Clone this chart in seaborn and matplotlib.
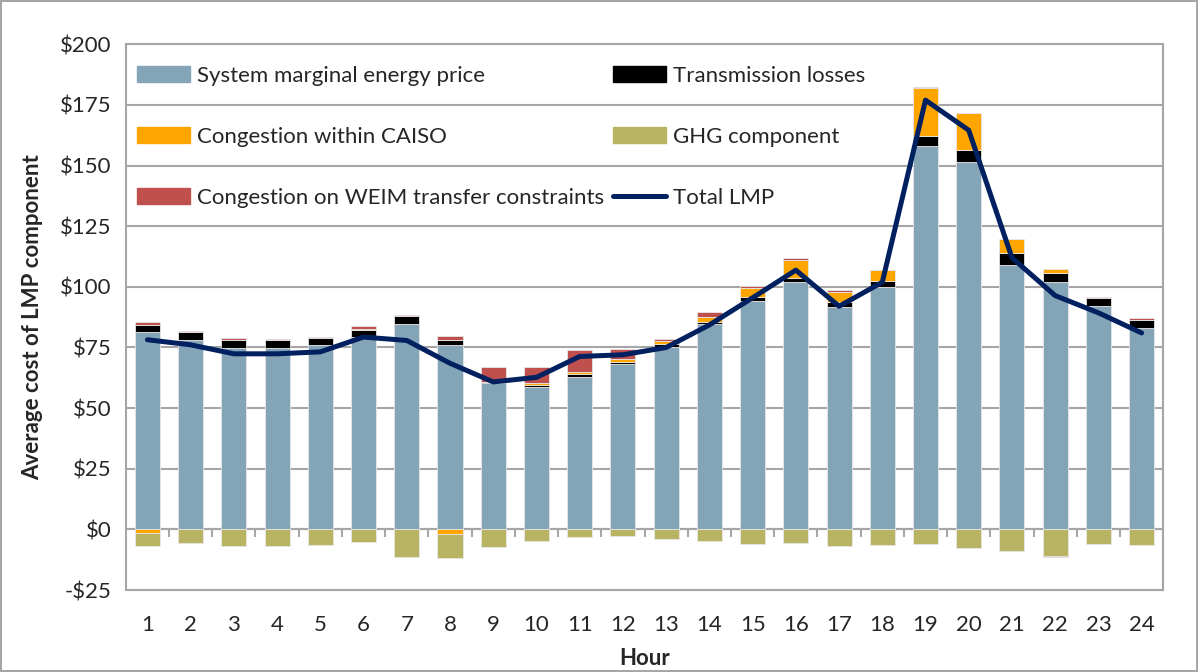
import numpy as np
import matplotlib
matplotlib.use("Agg")
import matplotlib.pyplot as plt
import seaborn as sns
from matplotlib.patches import Patch
from matplotlib.lines import Line2D

# hourly average LMP components ($/MWh)
hours = list(range(1, 25))
system_energy = [81.2, 77.9, 74.8, 74.8, 76.0, 79.3, 84.8, 76.1, 60.5, 58.9, 62.7, 68.1,
                 75.4, 84.5, 94.1, 101.9, 91.7, 100.0, 158.2, 151.5, 109.2, 101.9, 92.0, 83.0]
trans_losses = [3.2, 3.3, 3.1, 3.1, 3.0, 2.8, 3.1, 1.8, 0.3, 0.8, 1.3, 1.1,
                1.0, 1.2, 1.6, 1.9, 2.0, 2.4, 4.0, 4.9, 4.9, 3.8, 3.3, 3.5]
cong_caiso = [-1.5, 0.0, 0.0, 0.0, 0.0, 0.5, 0.0, -2.0, 0.0, 0.8, 1.1, 1.0,
              1.3, 1.9, 3.9, 7.1, 4.1, 4.4, 19.8, 15.3, 5.6, 1.8, 0.0, 0.0]
ghg = [-5.3, -5.8, -7.0, -6.8, -6.5, -5.0, -11.3, -9.6, -7.2, -4.7, -3.3, -2.9,
       -4.1, -4.7, -6.0, -5.6, -6.8, -6.5, -6.0, -7.7, -8.8, -10.9, -6.0, -6.5]
cong_weim = [1.1, 0.7, 1.1, 0.7, 0.2, 1.4, 0.7, 2.0, 6.3, 6.6, 8.7, 4.1,
             0.9, 1.9, 0.7, 0.9, 0.8, 0.0, 0.3, 0.0, 0.0, -0.6, 0.4, 0.7]
total_lmp = [78.2, 76.1, 72.4, 72.4, 73.2, 79.3, 77.9, 68.5, 60.8, 62.7, 71.3, 72.0,
             75.0, 84.3, 95.5, 106.9, 92.0, 101.9, 177.0, 164.6, 112.0, 96.4, 89.3, 81.0]

series = [
    ("System marginal energy price", system_energy, "#84A5B8"),
    ("Transmission losses", trans_losses, "#000000"),
    ("Congestion within CAISO", cong_caiso, "#FFA500"),
    ("GHG component", ghg, "#B8B464"),
    ("Congestion on WEIM transfer constraints", cong_weim, "#C0504D"),
]

sns.set_style("white")
plt.rcParams["font.family"] = ["Lato", "DejaVu Sans"]
fs = 16

fig = plt.figure(figsize=(11.98, 6.72), dpi=100)
fig.patch.set_edgecolor("#A6A6A6")
fig.patch.set_linewidth(1.5)
ax = fig.add_axes([0.105, 0.122, 0.866, 0.812])

grid_c = "#A6A6A6"
ax.set_axisbelow(True)
ax.yaxis.grid(True, color=grid_c, linewidth=1.5)

x = np.array(hours)
pos_bottom = np.zeros(24)
neg_bottom = np.zeros(24)
for name, vals, col in series:
    v = np.array(vals)
    bottom = np.where(v >= 0, pos_bottom, neg_bottom)
    ax.bar(x, v, width=0.58, bottom=bottom, color=col, edgecolor="#E6E6E6", linewidth=0.6, zorder=2)
    pos_bottom += np.where(v >= 0, v, 0)
    neg_bottom += np.where(v < 0, v, 0)

sns.lineplot(x=hours, y=total_lmp, ax=ax, color="#002060", linewidth=3.6, zorder=3)

ax.set_xlim(0.5, 24.5)
ax.set_ylim(-25, 200)
ax.set_yticks(np.arange(-25, 201, 25))
ax.set_yticklabels([f"-${-t}" if t < 0 else f"${t}" for t in range(-25, 201, 25)])
ax.set_xticks(hours)
ax.set_xticklabels([str(h) for h in hours])
ax.tick_params(axis="x", length=0, pad=18, labelsize=fs)
ax.tick_params(axis="y", length=6, color=grid_c, width=1.5, labelsize=fs, pad=4)
for s in ax.spines.values():
    s.set_color(grid_c)
    s.set_linewidth(1.5)

# category axis drawn at zero
ax.axhline(0, color=grid_c, linewidth=1.5, zorder=1)
zero_ax = ax.secondary_xaxis(25 / 225)
zero_ax.set_xticks(np.arange(1.5, 24, 1))
zero_ax.set_xticks(hours, minor=True)
zero_ax.tick_params(which="major", direction="out", length=6, color=grid_c, width=1.5, labelbottom=False)
zero_ax.tick_params(which="minor", direction="in", length=6, color=grid_c, width=1.5)
zero_ax.set_xticklabels([])
zero_ax.spines["bottom"].set_visible(False)

ax.set_xlabel("Hour", fontsize=fs, fontweight="bold", labelpad=9)
ax.set_ylabel("Average cost of LMP component", fontsize=fs, fontweight="bold", labelpad=12)

handles = [Patch(color=series[0][2]), Patch(color=series[2][2]), Patch(color=series[4][2]),
           Patch(color=series[1][2]), Patch(color=series[3][2]),
           Line2D([0], [0], color="#002060", linewidth=3.6)]
labels = [series[0][0], series[2][0], series[4][0], series[1][0], series[3][0], "Total LMP"]
ax.legend(handles, labels, ncol=2, loc="upper left", bbox_to_anchor=(0.0, 0.981), frameon=False,
          fontsize=fs, handlelength=2.4, handleheight=0.7, handletextpad=0.3,
          labelspacing=1.85, columnspacing=0.4, borderaxespad=0.1)

fig.savefig("out.png", dpi=100)
